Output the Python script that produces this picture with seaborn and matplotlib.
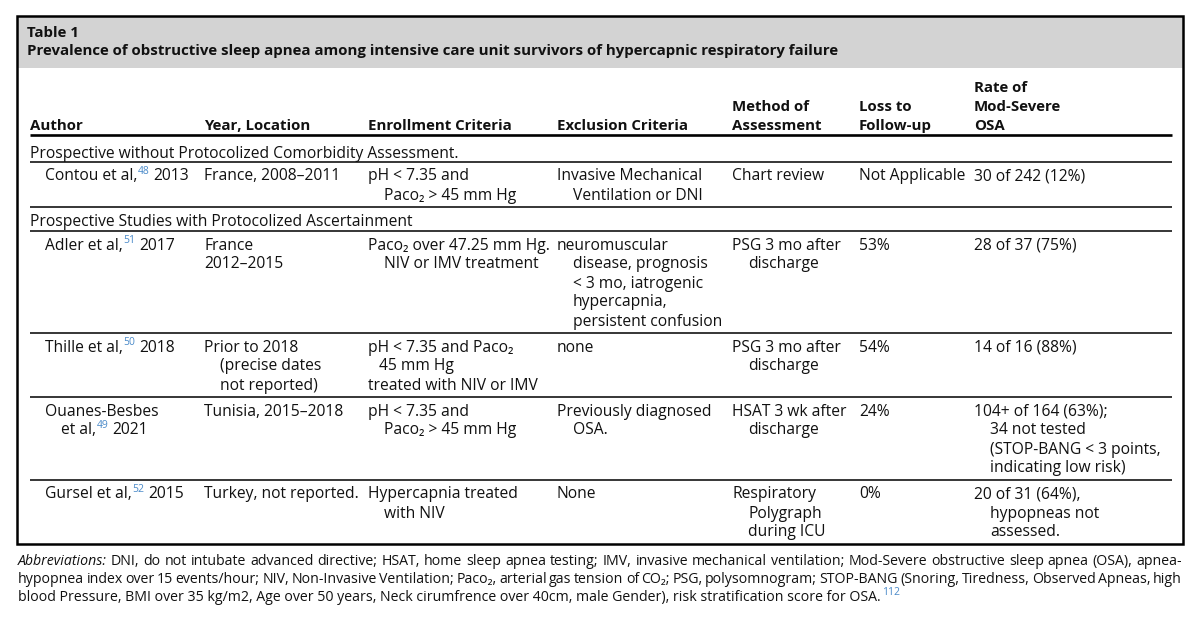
import numpy as np
import pandas as pd
import seaborn as sns
import matplotlib.pyplot as plt
from matplotlib import font_manager as fm
from matplotlib.patches import Rectangle

# ---- table content ----
title = "Table 1"
subtitle = ("Prevalence of obstructive sleep apnea among intensive care unit "
            "survivors of hypercapnic respiratory failure")
col_headers = [["Author"], ["Year, Location"], ["Enrollment Criteria"],
               ["Exclusion Criteria"], ["Method of", "Assessment"],
               ["Loss to", "Follow-up"], ["Rate of", "Mod-Severe", "OSA"]]
sections = ["Prospective without Protocolized Comorbidity Assessment.",
            "Prospective Studies with Protocolized Ascertainment"]
row_section = [0, 1, 1, 1, 1]

authors = [["Contou et al,"], ["Adler et al,"], ["Thille et al,"],
           ["Ouanes-Besbes", "et al,"], ["Gursel et al,"]]
refs = ["48", "51", "50", "49", "52"]
pub_years = ["2013", "2017", "2018", "2021", "2015"]
year_location = [["France, 2008–2011"],
                 ["France", "2012–2015"],
                 ["Prior to 2018", "(precise dates", "not reported)"],
                 ["Tunisia, 2015–2018"],
                 ["Turkey, not reported."]]
enrollment = [["pH < 7.35 and", "Paco₂ > 45 mm Hg"],
              ["Paco₂ over 47.25 mm Hg.", "NIV or IMV treatment"],
              ["pH < 7.35 and Paco₂", "45 mm Hg", "treated with NIV or IMV"],
              ["pH < 7.35 and", "Paco₂ > 45 mm Hg"],
              ["Hypercapnia treated", "with NIV"]]
exclusion = [["Invasive Mechanical", "Ventilation or DNI"],
             ["neuromuscular", "disease, prognosis", "< 3 mo, iatrogenic",
              "hypercapnia,", "persistent confusion"],
             ["none"],
             ["Previously diagnosed", "OSA."],
             ["None"]]
method = [["Chart review"], ["PSG 3 mo after", "discharge"],
          ["PSG 3 mo after", "discharge"], ["HSAT 3 wk after", "discharge"],
          ["Respiratory", "Polygraph", "during ICU"]]
loss = [["Not Applicable"], ["53%"], ["54%"], ["24%"], ["0%"]]
rate = [["30 of 242 (12%)"], ["28 of 37 (75%)"], ["14 of 16 (88%)"],
        ["104+ of 164 (63%);", "34 not tested", "(STOP-BANG < 3 points,",
         "indicating low risk)"],
        ["20 of 31 (64%),", "hypopneas not", "assessed."]]

foot_lines = [
    [("Abbreviations:", "it"),
     ("DNI, do not intubate advanced directive; HSAT, home sleep apnea testing; "
      "IMV, invasive mechanical ventilation; Mod-Severe obstructive sleep apnea "
      "(OSA), apnea-", "rm")],
    [("hypopnea index over 15 events/hour; NIV, Non-Invasive Ventilation; Paco₂, "
      "arterial gas tension of CO₂; PSG, polysomnogram; STOP-BANG (Snoring, "
      "Tiredness, Observed Apneas, high", "rm")],
    [("blood Pressure, BMI over 35 kg/m2, Age over 50 years, Neck cirumfrence "
      "over 40cm, male Gender), risk stratification score for OSA.", "rm"),
     ("112", "sup")],
]


# ---- fonts: pick a humanist sans that really has a bold face ----
def _w(v):
    return fm.weight_dict.get(v, 400) if isinstance(v, str) else v


def has_bold(fam):
    return any(f.name == fam and _w(f.weight) >= 600 for f in fm.fontManager.ttflist)


FAMILY = next((f for f in ["Noto Sans", "Open Sans", "Lato", "Roboto", "Inter"]
               if has_bold(f)), "DejaVu Sans")

sns.set_theme(style="white")
plt.rcParams['font.family'] = [FAMILY, 'DejaVu Sans']

INK = "#111111"
SUP_BLUE = "#4a8ac9"
BAND = "#d3d3d3"
FS_SUP = 7.5

W, H = 1200, 617
fig = plt.figure(figsize=(W / 100, H / 100), dpi=100)
ax = fig.add_axes([0, 0, 1, 1])
ax.set_xlim(0, W)
ax.set_ylim(H, 0)
ax.axis("off")
renderer = fig.canvas.get_renderer()


def text_width(s, size, **kw):
    t = ax.text(0, 0, s, fontsize=size, **kw)
    w = t.get_window_extent(renderer).width
    t.remove()
    return w


# size the text so its widths match the printed table
FS = 10 * 429 / text_width(sections[0], 10)
FS_BOLD = 10 * 813 / text_width(subtitle, 10, weight="bold")
FS_FOOT = 10 * 863 / text_width(foot_lines[2][0][0], 10)
SPACE = text_width("x x", FS) - text_width("xx", FS)


def draw_run(x, y, parts, size=None):
    size = size or FS
    for s, kind in parts:
        if kind == "sp":
            x += SPACE
            continue
        if kind == "sup":
            t = ax.text(x + 0.5, y - 6.5, s, fontsize=FS_SUP, color=SUP_BLUE,
                        va="baseline", ha="left")
        else:
            t = ax.text(x, y, s, fontsize=size, color=INK, va="baseline",
                        ha="left", style="italic" if kind == "it" else "normal")
        x = t.get_window_extent(renderer).x1
    return x


def draw_cell(x, y, lines, indent=16, flush=()):
    for j, line in enumerate(lines):
        dx = indent if (j > 0 and j not in flush) else 0
        ax.text(x + dx, y + j * PITCH, line, fontsize=FS, color=INK,
                va="baseline", ha="left")


# ---- layout ----
X0, X1 = 17, 1183          # outer box
LX0, LX1 = 30, 1172        # rule lines
TOP, BOT = 16, 544
PITCH = 19
col_x = [30, 204, 368, 557, 732, 859, 974]
AUTH_X = 45

ax.add_patch(Rectangle((X0, TOP), X1 - X0, 68 - TOP, facecolor=BAND,
                       edgecolor="none", zorder=0))
ax.add_patch(Rectangle((X0, TOP), X1 - X0, BOT - TOP, facecolor="none",
                       edgecolor="black", lw=1.8, zorder=5))
ax.text(27, 37, title, fontsize=FS_BOLD, weight="bold", color=INK, va="baseline")
ax.text(27, 55, subtitle, fontsize=FS_BOLD, weight="bold", color=INK, va="baseline")

# column headers, bottom aligned
head_base = 130
for cx, lines in zip(col_x, col_headers):
    for j, line in enumerate(lines):
        yy = head_base - (len(lines) - 1 - j) * PITCH
        ax.text(cx, yy, line, fontsize=FS_BOLD, weight="bold", color=INK,
                va="baseline")
ax.plot([LX0, LX1], [134.5, 134.5], color="black", lw=1.9,
        solid_capstyle="butt")


def rule(y):
    ax.plot([LX0, LX1], [y, y], color="black", lw=1.1, solid_capstyle="butt")


# lines that stay flush left instead of the hanging indent
flush_year = {1: (1,)}
flush_enroll = {2: (2,)}
indent_enroll = {2: 11}

y = 134.5
current = None
for i in range(len(authors)):
    if row_section[i] != current:
        current = row_section[i]
        yb = y + (23 if current == 0 else 20)
        ax.text(col_x[0], yb, sections[current], fontsize=FS, color=INK,
                va="baseline")
        y = yb + 4
        rule(y)
    base = y + 19
    a_lines = authors[i]
    for j, line in enumerate(a_lines):
        xx = AUTH_X + (16 if j > 0 else 0)
        yy = base + j * PITCH
        if j == len(a_lines) - 1:
            draw_run(xx, yy, [(line, "rm"), (refs[i], "sup"), ("", "sp"),
                              (pub_years[i], "rm")])
        else:
            ax.text(xx, yy, line, fontsize=FS, color=INK, va="baseline")
    draw_cell(col_x[1], base, year_location[i], flush=flush_year.get(i, ()))
    draw_cell(col_x[2], base, enrollment[i], indent=indent_enroll.get(i, 16),
              flush=flush_enroll.get(i, ()))
    draw_cell(col_x[3], base, exclusion[i])
    draw_cell(col_x[4], base, method[i])
    draw_cell(col_x[5], base, loss[i])
    draw_cell(col_x[6], base, rate[i])
    nlines = max(len(c) for c in (a_lines, year_location[i], enrollment[i],
                                  exclusion[i], method[i], loss[i], rate[i]))
    y = base + (nlines - 1) * PITCH + 7
    if i < len(authors) - 1:
        rule(y)

# ---- footnote (first two lines justified) ----
FX0, FX1 = 18, 1182
foot_base = [565, 583, 601]
for k, parts in enumerate(foot_lines):
    if k < 2:
        words = []
        for s, kind in parts:
            words += [(w, kind) for w in s.split(" ")]
        widths = [text_width(w, FS_FOOT, style="italic" if kd == "it" else "normal")
                  for w, kd in words]
        gap = (FX1 - FX0 - sum(widths)) / (len(words) - 1)
        xx = FX0
        for (w, kd), wd in zip(words, widths):
            ax.text(xx, foot_base[k], w, fontsize=FS_FOOT, color=INK,
                    va="baseline", style="italic" if kd == "it" else "normal")
            xx += wd + gap
    else:
        t = ax.text(FX0, foot_base[k], parts[0][0], fontsize=FS_FOOT, color=INK,
                    va="baseline")
        xe = t.get_window_extent(renderer).x1
        ax.text(xe + 1, foot_base[k] - 6, parts[1][0], fontsize=FS_SUP,
                color=SUP_BLUE, va="baseline")

fig.savefig("out.png", dpi=100)
